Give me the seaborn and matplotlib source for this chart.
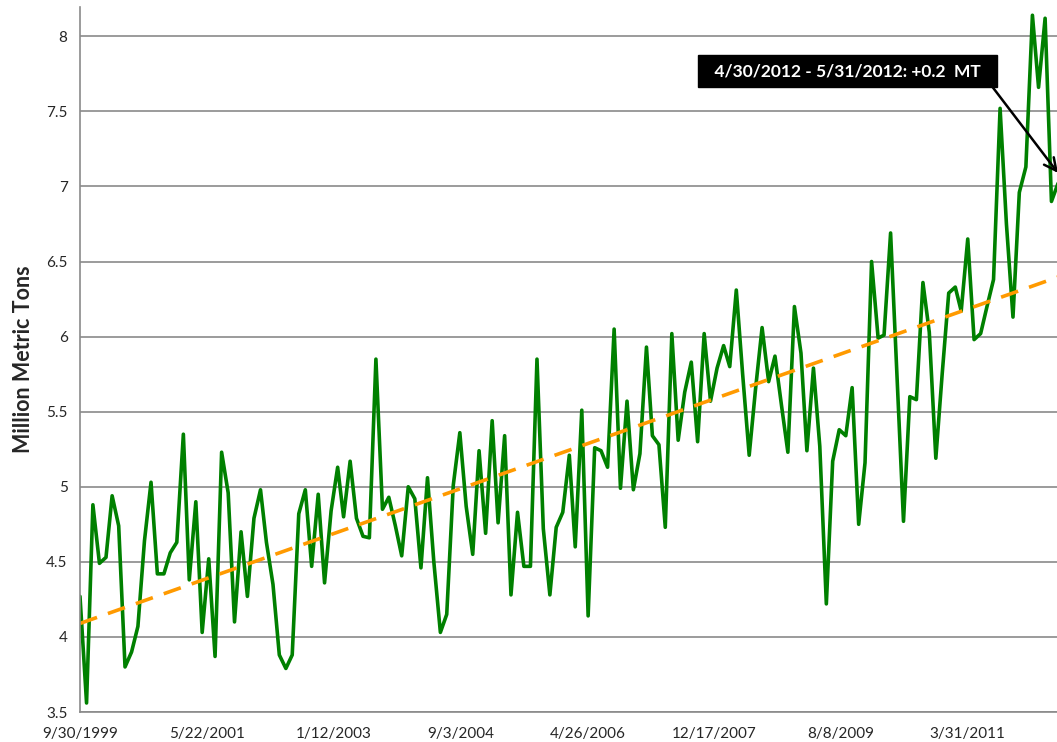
import pandas as pd
import numpy as np
import matplotlib
matplotlib.use("Agg")
import matplotlib.pyplot as plt
import seaborn as sns

# monthly series, 9/30/1999 .. 5/31/2012 (million metric tons)
START = "1999-09-30"
END = "2012-05-31"
values = [
    4.27, 3.56, 4.88, 4.49, 4.53, 4.94, 4.74, 3.80, 3.90, 4.07,
    4.64, 5.03, 4.42, 4.42, 4.56, 4.63, 5.35, 4.38, 4.90, 4.03,
    4.52, 3.87, 5.23, 4.96, 4.10, 4.70, 4.27, 4.79, 4.98, 4.63,
    4.35, 3.88, 3.79, 3.88, 4.82, 4.98, 4.47, 4.95, 4.36, 4.84,
    5.13, 4.80, 5.17, 4.79, 4.67, 4.66, 5.85, 4.85, 4.93, 4.74,
    4.54, 5.00, 4.92, 4.46, 5.06, 4.50, 4.03, 4.15, 5.01, 5.36,
    4.87, 4.55, 5.24, 4.69, 5.44, 4.76, 5.34, 4.28, 4.83, 4.47,
    4.47, 5.85, 4.72, 4.28, 4.73, 4.83, 5.21, 4.60, 5.51, 4.14,
    5.26, 5.24, 5.13, 6.05, 4.99, 5.57, 4.98, 5.22, 5.93, 5.34,
    5.28, 4.73, 6.02, 5.31, 5.63, 5.83, 5.30, 6.02, 5.57, 5.79,
    5.94, 5.80, 6.31, 5.75, 5.21, 5.65, 6.06, 5.70, 5.87, 5.54,
    5.23, 6.20, 5.89, 5.24, 5.79, 5.27, 4.22, 5.17, 5.38, 5.34,
    5.66, 4.75, 5.16, 6.50, 5.99, 6.01, 6.69, 5.74, 4.77, 5.60,
    5.58, 6.36, 6.03, 5.19, 5.75, 6.29, 6.33, 6.17, 6.65, 5.98,
    6.02, 6.20, 6.38, 7.52, 6.75, 6.13, 6.96, 7.13, 8.14, 7.66,
    8.12, 6.90, 7.02,
]
y_ticks = [3.5, 4, 4.5, 5, 5.5, 6, 6.5, 7, 7.5, 8]
annotation_text = "4/30/2012 - 5/31/2012: +0.2  MT"

dates = pd.date_range(START, END, freq="ME")
df = pd.DataFrame({"date": dates, "tons": values})

# linear trend
t = (df["date"] - df["date"].iloc[0]).dt.days.values
coef = np.polyfit(t, df["tons"].values, 1)
df["trend"] = np.polyval(coef, t)

sns.set_style("white")
plt.rcParams["font.family"] = ["Lato", "DejaVu Sans"]

fig = plt.figure(figsize=(10.57, 7.42), dpi=100)
ax = fig.add_axes([80 / 1057, 30 / 742, 978 / 1057, 705 / 742])

sns.lineplot(data=df, x="date", y="tons", color="#008000", linewidth=2.6, ax=ax)
sns.lineplot(data=df, x="date", y="trend", color="#FF9A00", linewidth=2.6,
             ax=ax, linestyle=(0, (5, 3.2)))

ax.set_xlim(dates[0], dates[-1])
ax.set_ylim(3.5, 8.195)
ax.set_yticks(y_ticks)
ax.set_yticklabels([f"{v:g}" for v in y_ticks])

xt = pd.date_range(START, END, freq="600D")
ax.set_xticks(xt)
ax.set_xticklabels([f"{d.month}/{d.day}/{d.year}" for d in xt])

ax.grid(axis="y", color="#8a8a8a", linewidth=1.2)
ax.grid(axis="x", visible=False)
ax.set_axisbelow(True)
for side in ["top", "right"]:
    ax.spines[side].set_visible(False)
for side in ["left", "bottom"]:
    ax.spines[side].set_color("#8a8a8a")
    ax.spines[side].set_linewidth(1.2)
ax.tick_params(axis="both", direction="out", length=5, width=1.2,
               color="#8a8a8a", labelsize=11, pad=4)
ax.tick_params(axis="x", pad=6)

ax.set_xlabel("")
ax.set_ylabel("Million Metric Tons", fontsize=15.5, fontweight="bold", labelpad=9)

ax.annotate("  " + annotation_text + "  ", xy=(dates[-1], 7.09), xycoords="data",
            xytext=(0.785, 0.909), textcoords="axes fraction",
            ha="center", va="center", color="white", fontsize=12.5,
            fontweight="bold",
            bbox=dict(boxstyle="square,pad=0.45", fc="black", ec="black"),
            arrowprops=dict(arrowstyle="->", color="black", lw=1.8,
                            relpos=(0.99, 0.0), shrinkA=0, shrinkB=0,
                            mutation_scale=22),
            annotation_clip=False)

fig.savefig("out.png", dpi=100)
